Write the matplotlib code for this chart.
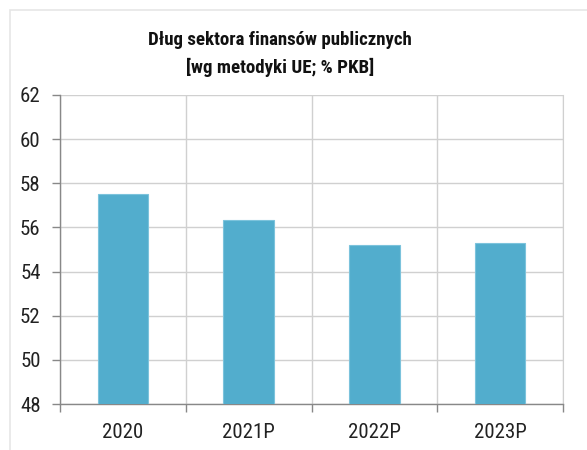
import matplotlib
matplotlib.use("Agg")
import matplotlib.pyplot as plt
from matplotlib.patches import Rectangle
import numpy as np

categories = ["2020", "2021P", "2022P", "2023P"]
values = [57.5, 56.35, 55.2, 55.3]
yticks = [48, 50, 52, 54, 56, 58, 60, 62]

font = ["Roboto Condensed", "Roboto", "DejaVu Sans"]

fig = plt.figure(figsize=(5.87, 4.5), dpi=100)
fig.patches.append(Rectangle((10/587, -0.01), 1.0, 1 - 10/450 + 0.01, transform=fig.transFigure,
                             fill=False, edgecolor="#e6e6e6", linewidth=1.2))
ax = fig.add_axes([60/587, 1 - 404/450, (563 - 60)/587, (404 - 95)/450])

x = np.arange(len(categories))
ax.bar(x, values, width=0.4, bottom=0, color="#52adcd", edgecolor="#7cc3dc", linewidth=0.8, zorder=3)
ax.set_ylim(48, 62)
ax.set_xlim(-0.5, len(categories) - 0.5)
ax.set_yticks(yticks)
ax.set_yticklabels([str(t) for t in yticks], fontfamily=font, fontsize=15, color="#222222")
ax.set_xticks(x)
ax.set_xticklabels(categories, fontfamily=font, fontsize=15, color="#222222")
ax.tick_params(axis="x", length=0, pad=14)
ax.tick_params(axis="y", length=6, color="#888888", pad=8, width=1)
ax.set_xticks(np.arange(-0.5, len(categories), 1.0), minor=True)
ax.tick_params(axis="x", which="minor", length=6, color="#888888", width=1)
ax.grid(axis="y", color="#d0d0d0", linewidth=1, zorder=0)
ax.grid(axis="x", which="minor", color="#d0d0d0", linewidth=1, zorder=0)
ax.grid(axis="x", which="major", visible=False)
for s in ["left", "bottom"]:
    ax.spines[s].set_color("#888888")
    ax.spines[s].set_linewidth(1)
ax.spines["top"].set_visible(False)
ax.spines["right"].set_color("#d0d0d0")

fig.text(0.477, 1 - 40/450, "Dług sektora finansów publicznych", ha="center", va="center",
         fontfamily=font, fontsize=13.6, fontweight="bold", color="#111111")
fig.text(0.477, 1 - 67/450, "[wg metodyki UE; % PKB]", ha="center", va="center",
         fontfamily=font, fontsize=13.6, fontweight="bold", color="#111111")

fig.savefig("out.png", dpi=100)
